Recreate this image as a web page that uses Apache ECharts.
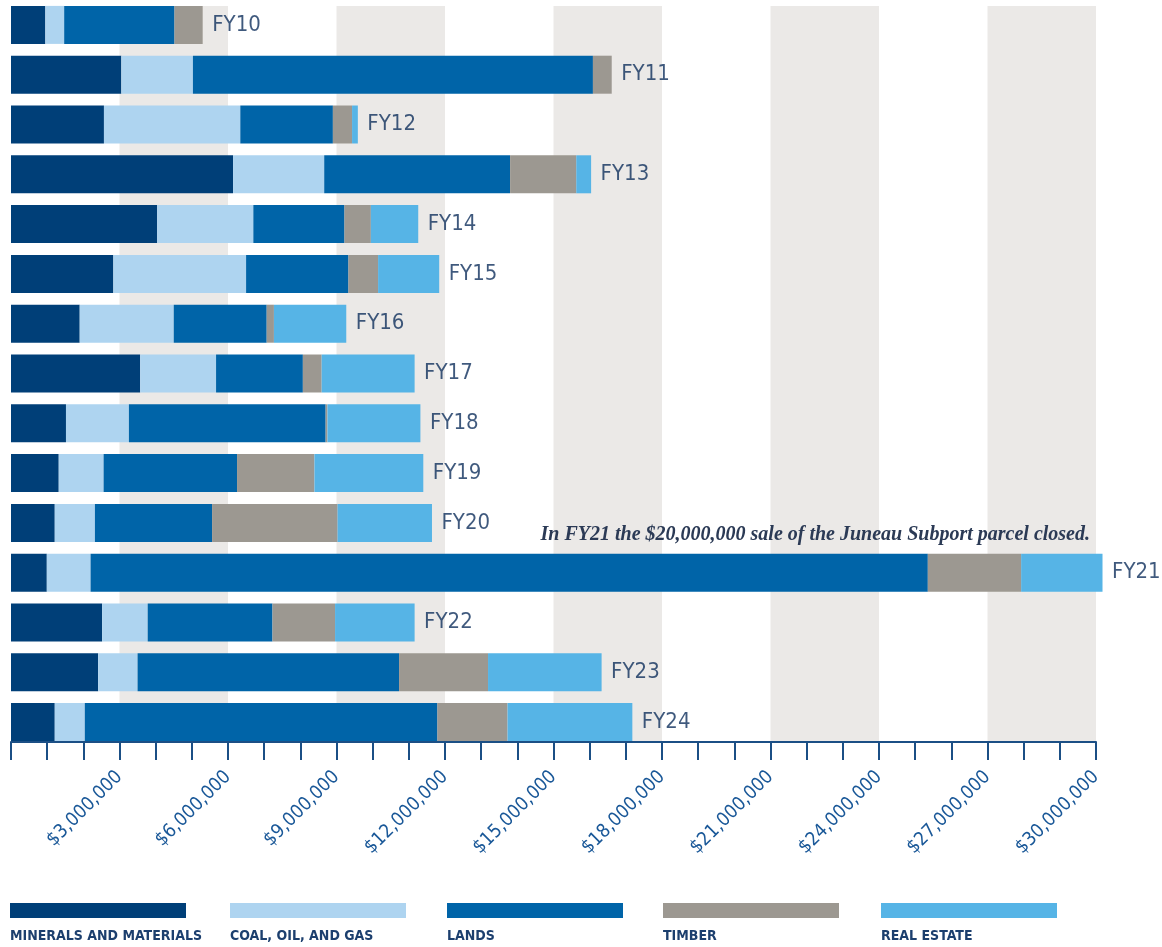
<!DOCTYPE html>
<html>
<head>
<meta charset="utf-8">
<script src="https://cdn.jsdelivr.net/npm/echarts@6/dist/echarts.min.js"></script>
<style>
html,body{margin:0;padding:0;background:#fff;}
#chart{width:1162px;height:947px;}
</style>
</head>
<body>
<div id="chart"></div>
<script>
// ---- Data (US dollars) ----
const categories = ['FY10','FY11','FY12','FY13','FY14','FY15','FY16','FY17','FY18','FY19','FY20','FY21','FY22','FY23','FY24'];
const mineralsAndMaterials = [950000, 3050000, 2570000, 6140000, 4040000, 2830000, 1900000, 3570000, 1520000, 1320000, 1210000, 990000, 2520000, 2410000, 1210000];
const coalOilAndGas        = [520000, 1980000, 3770000, 2520000, 2660000, 3670000, 2600000, 2100000, 1740000, 1240000, 1110000, 1210000, 1260000, 1090000, 830000];
const lands                = [3050000, 11060000, 2560000, 5140000, 2520000, 2830000, 2570000, 2400000, 5440000, 3690000, 3240000, 23150000, 3450000, 7230000, 9750000];
const timber               = [780000, 520000, 530000, 1830000, 730000, 820000, 200000, 520000, 50000, 2140000, 3470000, 2580000, 1730000, 2460000, 1940000];
const realEstate           = [0, 0, 160000, 410000, 1310000, 1690000, 2000000, 2570000, 2570000, 3010000, 2610000, 2250000, 2200000, 3140000, 3450000];

const seriesNames = ['MINERALS AND MATERIALS', 'COAL, OIL, AND GAS', 'LANDS', 'TIMBER', 'REAL ESTATE'];
const seriesValues = [mineralsAndMaterials, coalOilAndGas, lands, timber, realEstate];
const colors = ['#003f78', '#aed4f0', '#0064a8', '#9c9891', '#56b4e6'];
const axisMax = 30000000;
const tickStep = 1000000;
const labelStep = 3000000;
const annotation = 'In FY21 the $20,000,000 sale of the Juneau Subport parcel closed.';

const totals = categories.map((c, i) => seriesValues.reduce((s, arr) => s + arr[i], 0));

const chart = echarts.init(document.getElementById('chart'), null, {renderer: 'canvas'});

const GL = 11, GR = 66;
const sansCond = '"DejaVu Sans Condensed", "Liberation Sans Narrow", "DejaVu Sans", sans-serif';

const series = seriesNames.map((name, k) => ({
  name: name,
  type: 'bar',
  stack: 'total',
  xAxisIndex: 1,
  yAxisIndex: 1,
  barWidth: 38,
  clip: false,
  itemStyle: {color: colors[k]},
  emphasis: {disabled: true},
  data: seriesValues[k]
}));

series.push({
  type: 'scatter',
  xAxisIndex: 1,
  yAxisIndex: 1,
  clip: false,
  symbolSize: 1,
  itemStyle: {color: 'rgba(0,0,0,0)'},
  label: {
    show: true,
    position: 'right',
    distance: 9,
    formatter: p => categories[p.dataIndex],
    color: '#0f2f5c',
    fontSize: 22,
    fontFamily: sansCond
  },
  data: totals.map((t, i) => [t, categories[i]])
});

series.push({type: 'scatter', xAxisIndex: 0, yAxisIndex: 0, data: []});

// legend built from series names/colors
const legendGraphics = [];
const legendX = [10, 230, 447, 663, 881];
seriesNames.forEach((name, k) => {
  legendGraphics.push({
    type: 'rect', left: legendX[k], top: 903, z: 50,
    shape: {width: 176, height: 15},
    style: {fill: colors[k]}
  });
  legendGraphics.push({
    type: 'text', left: legendX[k], top: 929, z: 50,
    style: {
      text: name, fill: '#1c3f6e', fontSize: 14, fontWeight: 'bold',
      fontFamily: sansCond
    }
  });
});
legendGraphics.push({
  type: 'text', right: 72, top: 525, z: 100,
  style: {
    text: annotation, fill: '#2b3a55', fontSize: 20, fontStyle: 'italic', fontWeight: 'bold',
    fontFamily: '"Liberation Serif", "DejaVu Serif", serif'
  }
});

chart.setOption({
  animation: false,
  backgroundColor: '#ffffff',
  grid: [
    {left: GL, right: GR, top: 6, height: 736},
    {left: GL, right: GR, top: 0, height: 747}
  ],
  xAxis: [
    {
      gridIndex: 0, type: 'value', min: 0, max: axisMax, interval: labelStep,
      axisLine: {show: false}, axisTick: {show: false}, axisLabel: {show: false},
      splitLine: {show: false},
      splitArea: {show: true, areaStyle: {color: ['rgba(0,0,0,0)', '#ebe9e7']}}
    },
    {
      gridIndex: 1, type: 'value', min: 0, max: axisMax, interval: tickStep,
      offset: -5,
      axisLine: {show: true, lineStyle: {color: '#1b4f85', width: 2}},
      axisTick: {show: true, length: 18, lineStyle: {color: '#1b4f85', width: 2}},
      splitLine: {show: false},
      axisLabel: {
        show: true, rotate: 45, margin: 32, interval: 0,
        color: '#1a5898', fontSize: 19,
        fontFamily: sansCond,
        formatter: v => (v > 0 && v % labelStep === 0) ? '$' + v.toLocaleString('en-US') : ''
      }
    }
  ],
  yAxis: [
    {gridIndex: 0, type: 'value', show: false},
    {
      gridIndex: 1, type: 'category', data: categories, inverse: true,
      axisLine: {show: false}, axisTick: {show: false}, axisLabel: {show: false}
    }
  ],
  graphic: legendGraphics,
  series: series
});
</script>
</body>
</html>
